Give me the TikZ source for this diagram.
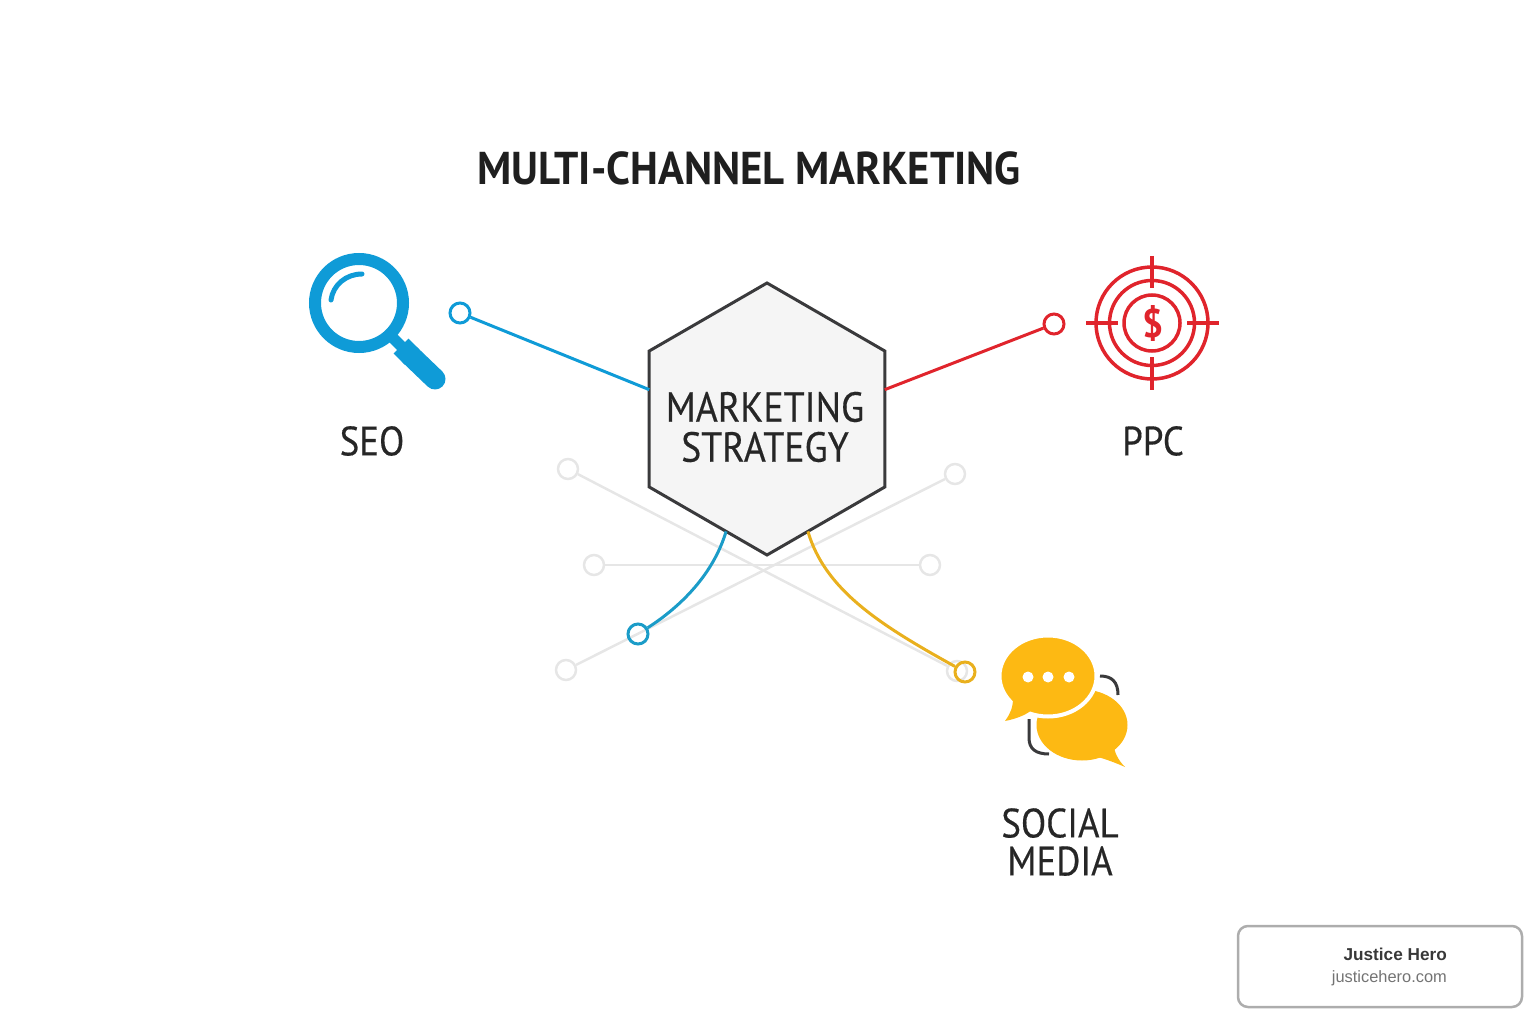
\documentclass[tikz,border=0pt]{standalone}
\usepackage{fontspec}
\setmainfont[FakeBold=0.35]{PT Sans}
\newfontfamily\hexfont[FakeStretch=0.9,FakeBold=0.35]{PT Sans}
\newfontfamily\titlefont[FakeStretch=0.93]{PT Sans}
\newfontfamily\cardfont{Liberation Sans}
\usetikzlibrary{shapes.geometric}
\definecolor{seoblue}{HTML}{0F9BD7}
\definecolor{lineblue}{HTML}{1B9CC8}
\definecolor{ppcred}{HTML}{E0242C}
\definecolor{chatyellow}{HTML}{FDB913}
\definecolor{lineyellow}{HTML}{E9B01E}
\definecolor{faintgrey}{HTML}{E6E6E6}
\definecolor{inkgrey}{HTML}{3A3A3C}
\tikzset{
    faintdot/.style={circle, draw=faintgrey, line width=2.5pt, minimum size=20pt, inner sep=0pt},
    faintline/.style={draw=faintgrey, line width=2.5pt},
    opendot/.style={circle, draw=#1, line width=3pt, minimum size=20pt, inner sep=0pt},
    chanlabel/.style={text=black!85, align=center, font=\hexfont\fontsize{41}{38}\selectfont},
    targetline/.style={draw=ppcred, line width=3.5pt}
}
\begin{document}
\begin{tikzpicture}[x=1pt, y=-1pt]
        \useasboundingbox (0,0) rectangle (1536,1024);

        % Title
        \node[text=black!88, font=\titlefont\fontsize{46}{46}\selectfont\bfseries] (title) at (749,168) {MULTI-CHANNEL MARKETING};

        % Faint spokes behind the hexagon
        \foreach \name/\x/\y in {fa/568/469, fb/955/474, fc/594/565, fd/930/565, fe/566/670, ff/957/671}
        {
            \node[faintdot] (\name) at (\x,\y) {};
        }
        \draw[faintline] (fa) -- (ff);
        \draw[faintline] (fb) -- (fe);
        \draw[faintline] (fc) -- (fd);

        % Centre
        \node[regular polygon, regular polygon sides=6, shape border rotate=30, minimum size=272pt, inner sep=0pt, outer sep=0pt,
              draw=inkgrey, line width=3pt, fill=black!4] (hex) at (767,419) {};
        \node[text=black!85, align=center, font=\hexfont\fontsize{42}{40}\selectfont] (hextext) at (765,427) {MARKETING\\STRATEGY};

        % Channel dots and connectors
        \node[opendot=seoblue] (seodot) at (460,313) {};
        \node[opendot=ppcred] (ppcdot) at (1054,324) {};
        \node[opendot=lineblue] (lowdot) at (638,634) {};
        \node[opendot=lineyellow] (chatdot) at (965,672) {};
        \draw[seoblue, line width=3pt] (seodot) -- (hex.166);
        \draw[ppcred, line width=3pt] (ppcdot) -- (hex.14);
        \draw[lineblue, line width=3pt] (hex.250) .. controls (713,575) and (680,607) .. (lowdot);
        \draw[lineyellow, line width=3pt] (hex.290) .. controls (825,590) and (880,625) .. (chatdot);

        % Magnifier
        \draw[seoblue, line width=12pt] (359,303) circle[radius=44pt];
        \draw[seoblue, line width=5pt, line cap=round] (331,300) .. controls (333,285) and (346,274) .. (362,274);
        \draw[seoblue, line width=11pt] (391,336) -- (404,349);
        \draw[seoblue, line width=21pt] (401,346) -- (412,357);
        \draw[seoblue, line width=21pt, line cap=round] (410,355) -- (435,379);

        % Target
        \foreach \r in {28,42.5,56}
        {
            \draw[targetline] (1152,323) circle[radius=\r pt];
        }
        \draw[targetline] (1152,256) -- (1152,288);
        \draw[targetline] (1152,357) -- (1152,390);
        \draw[targetline] (1086,323) -- (1118,323);
        \draw[targetline] (1187,323) -- (1219,323);
        \node[text=ppcred, font=\titlefont\fontsize{40}{40}\selectfont\bfseries] (dollar) at (1153,323) {\$};

        % Chat bubbles
        \draw[inkgrey, line width=3pt] (1100,676) .. controls (1112,676) and (1118,682) .. (1118,695);
        \draw[inkgrey, line width=3pt] (1029,719) -- (1029,738) .. controls (1029,749) and (1036,754) .. (1049,754);
        \fill[chatyellow] (1082,725) ellipse[x radius=45.5pt, y radius=35.5pt];
        \fill[chatyellow] (1098,757) .. controls (1108,760) and (1116,763) .. (1125,767) .. controls (1118,760) and (1114,752) .. (1113,742) -- cycle;
        \fill[chatyellow, draw=white, line width=4pt] (1048,676) ellipse[x radius=48.5pt, y radius=40.5pt];
        \fill[chatyellow] (1013,698) .. controls (1013,708) and (1010,714) .. (1005,721) .. controls (1015,719) and (1024,716) .. (1032,710) -- cycle;
        \foreach \x in {1028,1048,1069}
        {
            \fill[white] (\x,677) circle[radius=5.5pt];
        }

        % Labels
        \node[chanlabel] (seolabel) at (372,441) {SEO};
        \node[chanlabel] (ppclabel) at (1153,441) {PPC};
        \node[chanlabel] (chatlabel) at (1060,842) {SOCIAL\\MEDIA};

        % Card
        \node[draw=black!32, line width=2.5pt, rounded corners=10pt, minimum width=284pt, minimum height=81pt, inner sep=0pt] (card) at (1380,966.5) {};
        \node[anchor=east, inner sep=0pt, text=black!78, font=\cardfont\fontsize{17.2}{20}\selectfont\bfseries] (cardname) at (1447,954) {Justice Hero};
        \node[anchor=east, inner sep=0pt, text=black!55, font=\cardfont\fontsize{16.4}{20}\selectfont] (cardurl) at (1447,978) {justicehero.com};
    \end{tikzpicture}
\end{document}
